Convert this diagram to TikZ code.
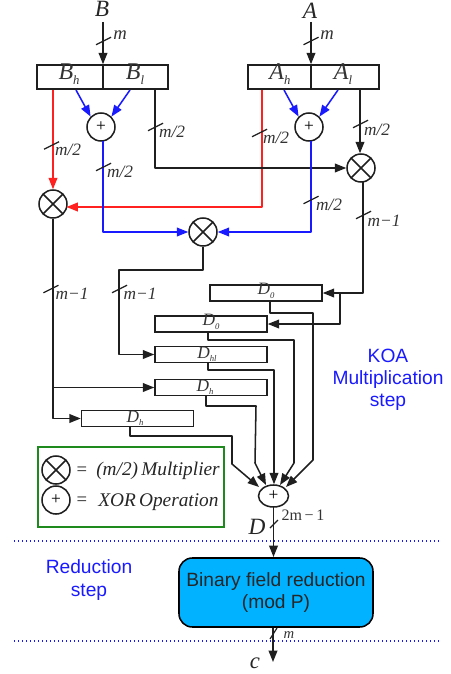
\documentclass[tikz,border=0pt]{standalone}
\usepackage{fontspec}
\setmainfont{Liberation Serif}
\setsansfont{Liberation Sans}
\usetikzlibrary{arrows.meta,shapes.geometric}
\definecolor{skyfill}{HTML}{00B2FF}
\definecolor{wblue}{HTML}{1A1AFF}
\definecolor{wred}{HTML}{FF2020}
\definecolor{wgreen}{HTML}{1E8A1E}
\newcommand{\fsz}[1]{\fontsize{#1}{#1}\selectfont}
\newcommand{\bigsub}[2]{\fsz{18}\textit{#1}\raisebox{-4pt}{\fsz{9.5}\textit{#2}}}
\newcommand{\dsub}[2]{\fsz{13}\textit{#1}\raisebox{-2.5pt}{\fsz{6.5}\textit{#2}}}
\newcommand{\plusm}{\raisebox{-0.9pt}{+}}
\tikzset{
  x=0.75pt,y=-0.75pt,
  wire/.style={line width=1.15pt,line join=round},
  tip/.style={-{Triangle[length=8.5pt,width=6.5pt]}},
  blk/.style={wire,black!88},
  redw/.style={wire,wred},
  bluew/.style={wire,wblue},
  tick/.style={line width=0.9pt,black!88},
  lab/.style={inner sep=0pt,text=black!80,font=\fsz{13}\itshape},
  splitbox/.style={draw=black!88,line width=1.15pt,minimum width=131*0.75pt,minimum height=24*0.75pt,inner sep=0pt},
  dbox/.style={draw=black!88,line width=1.15pt,minimum width=112*0.75pt,minimum height=16*0.75pt,inner sep=0pt},
  dtext/.style={inner sep=0pt,text=black!80},
  xorn/.style={circle,draw=black!88,line width=1.15pt,minimum size=28*0.75pt,inner sep=0pt,font=\fsz{13}},
  multn/.style={xorn,path picture={
    \draw[line width=1.15pt,black!88] (path picture bounding box.north west)--(path picture bounding box.south east)
      (path picture bounding box.north east)--(path picture bounding box.south west);}},
  steptext/.style={inner sep=0pt,text=wblue,font=\sffamily\fsz{14.4},align=center},
  sepline/.style={wblue,line width=1pt,dotted},
}
\newcommand{\tickat}[2]{\draw[tick] (#1-7.5,#2+3.75)--(#1+7.5,#2-3.75);}
\begin{document}
\begin{tikzpicture}
\useasboundingbox (0,0) rectangle (450,674);

% inputs
\node[inner sep=0pt,font=\fsz{17.5}\itshape,text=black!85] (B) at (102,9) {B};
\node[inner sep=0pt,font=\fsz{17.5}\itshape,text=black!85] (A) at (310,11) {A};
\coordinate (Bin) at (103,22);
\coordinate (Ain) at (311,22);

% split boxes
\node[splitbox] (Bbox) at (102.5,77) {};
\node[splitbox] (Abox) at (313.5,77) {};
\draw[blk] (Bbox.north -| Bin) -- (Bbox.south -| Bin);
\draw[blk] (Abox.north -| Ain) -- (Abox.south -| Ain);
\node[dtext] (Bh) at (69,74) {\bigsub{B}{h}};
\node[dtext] (Bl) at (135,74) {\bigsub{B}{l}};
\node[dtext] (Ah) at (280,74) {\bigsub{A}{h}};
\node[dtext] (Al) at (343,74) {\bigsub{A}{l}};
\draw[blk,tip] (Bin) -- (Bbox.north -| Bin);
\draw[blk,tip] (Ain) -- (Abox.north -| Ain);
\tickat{103.5}{41}
\tickat{311}{41}
\node[lab,font=\fsz{14}\itshape] (mB) at (120,35) {m};
\node[lab,font=\fsz{14}\itshape] (mA) at (327,35) {m};

% operators
\node[xorn] (xB) at (101,127) {\plusm};
\node[xorn] (xA) at (309,127) {\plusm};
\node[multn] (mH) at (53,204) {};
\node[multn] (mM) at (203,232) {};
\node[multn] (mL) at (361,168) {};

% coordinates for bends
\coordinate (BhB) at (76,90);
\coordinate (BlB) at (130,90);
\coordinate (AhB) at (284,90);
\coordinate (AlB) at (338,90);
\coordinate (BlOut) at (155,90);
\coordinate (AhOut) at (262,90);
\coordinate (AlOut) at (360,90);
\coordinate (xBo) at (103,141);
\coordinate (xAo) at (311,141);
\coordinate (mHin) at (66.5,207);

\draw[bluew,tip] (BhB) -- (xB.north west);
\draw[bluew,tip] (BlB) -- (xB.north east);
\draw[bluew,tip] (AhB) -- (xA.north west);
\draw[bluew,tip] (AlB) -- (xA.north east);

\draw[redw,tip] (mH |- Bbox.south) -- (mH.north);
\draw[redw,tip] (AhOut) |- (mHin);
\draw[blk,tip] (BlOut) |- (mL.west);
\draw[blk,tip] (AlOut) -- (mL.north -| AlOut);
\draw[bluew,tip] (xBo) |- (mM.west);
\draw[bluew,tip] (xAo) |- (mM.east);

\tickat{51.5}{145.5}
\node[lab] (l1) at (68,150) {m/2};
\tickat{103.5}{167}
\node[lab] (l2) at (120,172) {m/2};
\tickat{155.5}{127}
\node[lab] (l3) at (172,132) {m/2};
\tickat{259.5}{133}
\node[lab] (l4) at (276,138) {m/2};
\tickat{311}{200}
\node[lab] (l5) at (329,205) {m/2};
\tickat{360.5}{124}
\node[lab] (l6) at (377,130) {m/2};

% D boxes
\node[dbox] (D1) at (266,293) {};
\node[dbox] (D2) at (211,324) {};
\node[dbox] (D3) at (211,354.5) {};
\node[dbox] (D4) at (211,387.5) {};
\node[dbox] (D5) at (137.5,418.5) {};
\node[dtext] (t1) at (266,291) {\dsub{D}{0}};
\node[dtext] (t2) at (211,322) {\dsub{D}{0}};
\node[dtext] (t3) at (207,354) {\dsub{D}{hl}};
\node[dtext] (t4) at (205,387) {\dsub{D}{h}};
\node[dtext] (t5) at (135,418) {\dsub{D}{h}};

% to D boxes
\coordinate (mLo) at (363,182);
\coordinate (bendA) at (340,293);
\draw[blk,tip] (mLo) |- (D1.east);
\draw[blk,tip] (bendA) |- (D2.east);
\coordinate (mMb) at (203,270);
\coordinate (mMc) at (119,270);
\draw[blk,tip] (mM.south) -- (mMb) -- (mMc) |- (D3.west);
\draw[blk,tip] (mH.south) |- (D5.west);
\draw[blk,tip] (mH |- D4.west) -- (D4.west);

\tickat{51}{289}
\node[lab] (l7) at (72,294) {m−1};
\tickat{119.5}{289}
\node[lab] (l8) at (140,294) {m−1};
\tickat{363.5}{215}
\node[lab] (l9) at (384,221) {m−1};

% final XOR
\node[ellipse,draw=black!88,line width=1.15pt,minimum width=30*0.75pt,minimum height=22*0.75pt,inner sep=0pt,font=\fsz{13}] (xF) at (273.5,496) {\plusm};

\coordinate (d1a) at (270,301);
\coordinate (d1b) at (270,313);
\coordinate (d1c) at (313,313);
\coordinate (d1d) at (313,460);
\coordinate (d1e) at (286,487);
\draw[blk,tip] (d1a) -- (d1b) -- (d1c) -- (d1d) -- (d1e);
\coordinate (d2a) at (208,332);
\coordinate (d2b) at (208,340);
\coordinate (d2c) at (294,340);
\coordinate (d2d) at (294,463);
\coordinate (d2e) at (280,485);
\draw[blk,tip] (d2a) -- (d2b) -- (d2c) -- (d2d) -- (d2e);
\coordinate (d3a) at (208,362);
\coordinate (d3b) at (208,370);
\coordinate (d3c) at (274,370);
\draw[blk,tip] (d3a) -- (d3b) -- (d3c) -- (xF.north -| d3c);
\coordinate (d4a) at (206,395);
\coordinate (d4b) at (206,406);
\coordinate (d4c) at (256,406);
\coordinate (d4d) at (255,463);
\coordinate (d4e) at (266,485);
\draw[blk,tip] (d4a) -- (d4b) -- (d4c) -- (d4d) -- (d4e);
\coordinate (d5a) at (130,426);
\coordinate (d5b) at (130,436);
\coordinate (d5c) at (232,436);
\coordinate (d5d) at (232,464);
\coordinate (d5e) at (259,487);
\draw[blk,tip] (d5a) -- (d5b) -- (d5c) -- (d5d) -- (d5e);

% legend
\node[draw=wgreen,line width=1.15pt,minimum width=186*0.75pt,minimum height=80*0.75pt,inner sep=0pt] (legend) at (131,487) {};
\node[multn] (lgM) at (56,470) {};
\node[xorn] (lgX) at (56,500) {\plusm};
\node[inner sep=0pt,font=\fsz{14},text=black!85] (eq1) at (82,471) {=};
\node[inner sep=0pt,font=\fsz{14},text=black!85] (eq2) at (82,501) {=};
\node[inner sep=0pt,anchor=west,font=\fsz{14.5}\itshape,text=black!85] (lt1) at (96,471) {(m/2)\,Multiplier};
\node[inner sep=0pt,anchor=west,font=\fsz{14.5}\itshape,text=black!85] (lt2) at (98,502) {XOR\,Operation};

% output D
\node[draw=black,fill=skyfill,line width=1.15pt,rounded corners=10pt,minimum width=194*0.75pt,minimum height=69*0.75pt,inner sep=0pt,font=\sffamily\fsz{14.4},align=center,text=black!85] (red) at (276,592.5) {\raisebox{-0.7pt}{Binary field reduction}\\[2pt]\raisebox{-0.7pt}{(mod P)}};
\coordinate (redin) at (273.5,557);
\draw[blk,tip] (xF.south) -- (redin);
\draw[tick] (270,528)--(278,520);
\node[inner sep=0pt,font=\fsz{17.5}\itshape,text=black!85] (D) at (257,527) {D};
\node[lab,font=\fsz{12}] (l10) at (303,515) {2m\,−\,1};

% output c
\node[inner sep=0pt,font=\fsz{17}\itshape,text=black!85] (c) at (255,663) {c};
\coordinate (cend) at (273,662);
\draw[blk,tip] (cend |- red.south) -- (cend);
\draw[tick] (270,639)--(277,628);
\node[lab,font=\fsz{11}\itshape] (m3) at (289,635) {m};

% separators
\coordinate (s1) at (14,541);
\coordinate (s2) at (439,541);
\coordinate (s3) at (14,641);
\coordinate (s4) at (439,641);
\draw[sepline] (s1) -- (s2);
\draw[sepline] (s3) -- (s4);

% step labels
\node[steptext] (koa) at (388,380) {KOA\\[2.2pt]Multiplication\\[2.2pt]step};
\node[steptext] (rs) at (89,580) {Reduction\\[2.2pt]step};
\end{tikzpicture}
\end{document}
